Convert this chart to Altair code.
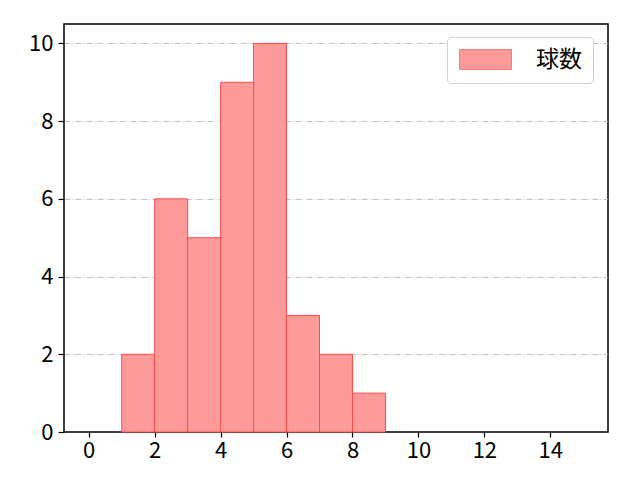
import altair as alt
import pandas as pd

bin_start = [1, 2, 3, 4, 5, 6, 7, 8]
bin_end = [2, 3, 4, 5, 6, 7, 8, 9]
counts = [2, 6, 5, 9, 10, 3, 2, 1]
series = ["球数"] * len(counts)

df = pd.DataFrame({"x": bin_start, "x2": bin_end, "y": counts, "s": series})

FONT = "Noto Sans CJK JP"

bars = alt.Chart(df).mark_rect(stroke="#ff4a4a", strokeWidth=1, fillOpacity=1).encode(
    x=alt.X("x:Q", scale=alt.Scale(domain=[-0.75, 15.75], nice=False, zero=False),
            axis=alt.Axis(values=[0, 2, 4, 6, 8, 10, 12, 14], title=None, grid=False,
                          domain=False, tickColor="black", tickSize=5, tickWidth=1.2,
                          labelFontSize=22, labelColor="black", labelFont=FONT,
                          labelPadding=3, labelFlush=False)),
    x2="x2:Q",
    y=alt.Y("y:Q", scale=alt.Scale(domain=[0, 10.5], nice=False),
            axis=alt.Axis(values=[0, 2, 4, 6, 8, 10], title=None, grid=True,
                          gridColor="#b0b0b0", gridDash=[6, 2, 1, 2], gridWidth=0.8,
                          gridOpacity=alt.ConditionalAxisNumber(
                              condition={"test": "datum.value === 0", "value": 0}, value=1),
                          domain=False, tickColor="black", tickSize=6, tickWidth=1.2,
                          labelFontSize=22, labelColor="black", labelFont=FONT,
                          labelPadding=5, labelFlush=False)),
    y2=alt.datum(0),
    fill=alt.Fill("s:N", scale=alt.Scale(domain=["球数"], range=["#ff9a9a"]),
                  legend=alt.Legend(title=None, orient="none", legendX=383, legendY=13,
                                    symbolType="M-1,-1L4.2,-1L4.2,1L-1,1Z",
                                    symbolSize=400, symbolStrokeColor="#ff7a7a",
                                    symbolStrokeWidth=1, symbolOpacity=1,
                                    labelFontSize=23, labelFont=FONT, labelColor="black",
                                    labelOffset=55, padding=11,
                                    strokeColor="#d0d0d0", cornerRadius=4,
                                    fillColor="white")),
)

chart = bars.properties(
    width=544, height=408,
    autosize=alt.AutoSizeParams(type="none"),
    padding={"left": 56, "top": 16, "right": 24, "bottom": 40},
).configure(background="white").configure_view(stroke="black", strokeWidth=1.5)

chart.save("out.html", embed_options={"renderer": "svg", "actions": False})
